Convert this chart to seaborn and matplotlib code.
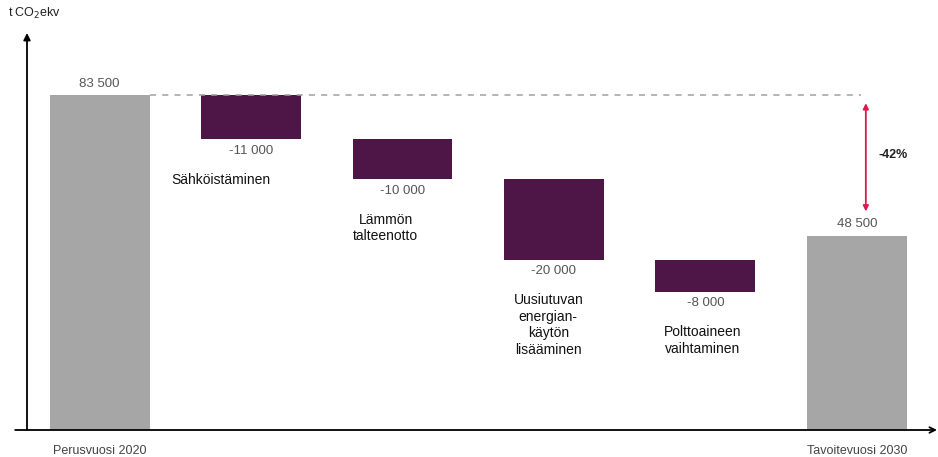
import matplotlib
matplotlib.use("Agg")
import matplotlib.pyplot as plt
import numpy as np
import pandas as pd
import seaborn as sns

# Data
categories = ["Perusvuosi 2020", "Sähköistäminen", "Lämmön\ntalteenotto",
              "Uusiutuvan\nenergian-\nkäytön\nlisääminen",
              "Polttoaineen\nvaihtaminen", "Tavoitevuosi 2030"]
base_value = 83500
target_value = 48500
changes = [-11000, -10000, -20000, -8000]
value_labels = ["83 500", "-11 000", "-10 000", "-20 000", "-8 000", "48 500"]
reduction_label = "-42%"

# waterfall geometry from the values
tops = [base_value]
bottoms = [0]
level = base_value
for c in changes:
    tops.append(level)
    bottoms.append(level + c)
    level += c
tops.append(target_value)
bottoms.append(0)
df = pd.DataFrame({"cat": categories, "height": np.array(tops) - np.array(bottoms),
                   "bottom": bottoms})

sns.set_style("white")
plt.rcParams["font.family"] = ["Liberation Sans Narrow", "Liberation Sans", "DejaVu Sans"]

grey = "#a6a6a6"
purple = "#4e1646"
colors = [grey, purple, purple, purple, purple, grey]

fig = plt.figure(figsize=(9.38, 4.57), dpi=100)
ax = fig.add_axes([27 / 938, 27 / 457, 910 / 938, 397 / 457])

sns.barplot(data=df, x="cat", y="height", bottom=df["bottom"].values, width=0.66,
            errorbar=None, color=grey, ax=ax)
for p, c in zip(ax.patches, colors):
    p.set_facecolor(c)
    p.set_edgecolor("none")

ax.set_xlim(-0.48, 5.53)
ax.set_ylim(0, 99000)
for s in ax.spines.values():
    s.set_visible(False)
ax.set_yticks([])
ax.set_xticks([0, 5])
ax.set_xticklabels([categories[0], categories[5]], fontsize=9, color="#444444")
ax.tick_params(axis="x", length=0, pad=11)
ax.set_xlabel("")
ax.set_ylabel("")

# axis arrows
ax.annotate("", xy=(0, 1), xytext=(0, 0), xycoords="axes fraction",
            arrowprops=dict(arrowstyle="-|>", color="black", lw=1.3,
                            mutation_scale=10, shrinkA=0, shrinkB=0))
ax.annotate("", xy=(1, 0), xytext=(-0.013, 0), xycoords="axes fraction",
            arrowprops=dict(arrowstyle="->", color="black", lw=1.3,
                            mutation_scale=10, shrinkA=0, shrinkB=0))
fig.text(8 / 938, 1 - 13 / 457, "t CO$_2$ekv", fontsize=9, va="center", ha="left",
         color="#222222")

# value labels
for i in range(6):
    if i in (0, 5):
        ax.annotate(value_labels[i], (i, tops[i]), xytext=(0, 4), textcoords="offset points",
                    ha="center", va="bottom", fontsize=9.5, color="#555555")
    else:
        ax.annotate(value_labels[i], (i, bottoms[i]), xytext=(0, -4), textcoords="offset points",
                    ha="center", va="top", fontsize=9.5, color="#555555")

# step labels under the purple bars
x_offsets = [-22, -12, -4, -2]
for k in range(4):
    i = k + 1
    ax.annotate(categories[i], (i, bottoms[i]), xytext=(x_offsets[k], -24),
                textcoords="offset points", ha="center", va="top", fontsize=10,
                color="#111111", linespacing=1.25)

# dashed reference line
ax.plot([0.33, 5.03], [base_value, base_value], ls=(0, (4, 4)), color="#a0a0a0", lw=1.1)

# reduction arrow
ax.annotate("", xy=(5.06, target_value + 6000), xytext=(5.06, base_value - 2000),
            arrowprops=dict(arrowstyle="<|-|>", color="#e0174f", lw=1.3,
                            mutation_scale=8, shrinkA=0, shrinkB=0))
ax.text(5.24, (base_value + target_value) / 2 + 2500, reduction_label, fontsize=9,
        fontweight="bold", ha="center", va="center", color="#222222")

plt.savefig("out.png", dpi=100)
